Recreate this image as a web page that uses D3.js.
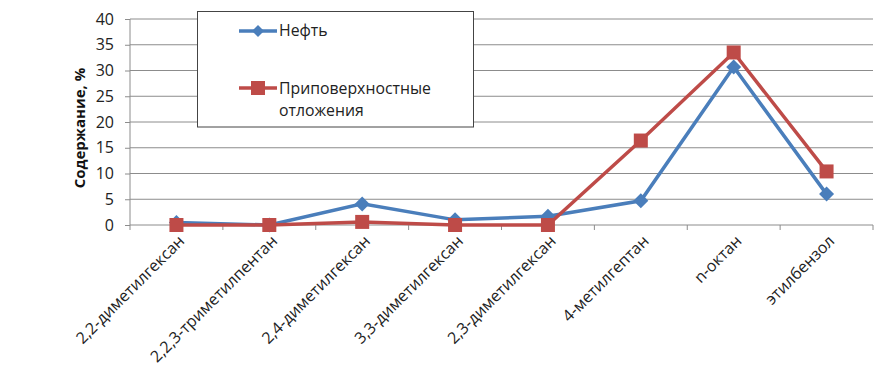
<!DOCTYPE html>
<html><head><meta charset="utf-8">
<script src="https://cdn.jsdelivr.net/npm/d3@7"></script>
<style>body{margin:0;background:#fff;}svg{display:block;font-family:"Open Sans",sans-serif;}</style>
</head><body><svg id="c" width="886" height="368"></svg>
<script>
const categories = ["2,2-диметилгексан","2,2,3-триметилпентан","2,4-диметилгексан","3,3-диметилгексан","2,3-диметилгексан","4-метилгептан","n-октан","этилбензол"];
const oilValues = [0.5, 0, 4.1, 1.0, 1.7, 4.7, 30.7, 6.0];
const surfaceValues = [0, 0, 0.6, 0, 0, 16.4, 33.5, 10.4];
const seriesNames = ["Нефть", "Приповерхностные отложения"];
const yTicks = [0,5,10,15,20,25,30,35,40];
const yTitle = "Содержание, %";

const svg = d3.select("#c");
const L = 130, R = 873, T = 19, B = 225;
const x = d3.scaleBand().domain(categories).range([L, R]);
const y = d3.scaleLinear().domain([0, 40]).range([B, T]);

svg.append("g").selectAll("line").data(yTicks.filter(d=>d>0)).join("line")
  .attr("x1", L).attr("x2", R).attr("y1", d=>y(d)).attr("y2", d=>y(d))
  .attr("stroke", "#8c8c8c").attr("stroke-width", 1);

const ya = svg.append("g").attr("transform", `translate(${L},0)`)
  .call(d3.axisLeft(y).tickValues(yTicks).tickSize(5).tickPadding(11));
ya.select(".domain").attr("stroke", "#8c8c8c").attr("d", `M0,${B}V${T}`);
ya.selectAll(".tick line").attr("stroke", "#8c8c8c");
ya.selectAll("text").attr("font-size", 16).attr("fill", "#222").attr("font-family", "Open Sans");

const xa = svg.append("g").attr("transform", `translate(0,${B})`);
xa.append("line").attr("x1", L).attr("x2", R).attr("stroke", "#8c8c8c");
const bounds = categories.map(c => x(c)).concat([R]);
xa.selectAll("line.t").data(bounds).join("line").attr("class","t")
  .attr("x1", d=>d).attr("x2", d=>d).attr("y1", 0).attr("y2", 5).attr("stroke", "#8c8c8c");
xa.selectAll("text").data(categories).join("text")
  .attr("transform", d => `translate(${x(d)+x.bandwidth()/2+9},${17}) rotate(-45)`)
  .attr("text-anchor", "end").attr("font-size", 16).attr("fill", "#222").text(d=>d);

svg.append("text").attr("transform", `translate(85,${(T+B)/2+6}) rotate(-90)`)
  .attr("text-anchor", "middle").attr("font-size", 15).attr("font-weight", "bold").attr("fill", "#111").text(yTitle);

const cx = d => x(d) + x.bandwidth()/2;
const line = d3.line().x(d=>cx(d[0])).y(d=>y(d[1]));
const blue = "#4a7ebb", red = "#be4b48";
const diamond = s => `M0,${-s}L${s},0L0,${s}L${-s},0Z`;

const oilData = categories.map((c,i)=>[c, oilValues[i]]);
const surfData = categories.map((c,i)=>[c, surfaceValues[i]]);

svg.append("path").datum(oilData).attr("d", line).attr("fill","none").attr("stroke", blue).attr("stroke-width", 3.5);
svg.append("g").selectAll("path").data(oilData).join("path")
  .attr("transform", d=>`translate(${cx(d[0])},${y(d[1])})`)
  .attr("d", diamond(7.5)).attr("fill", blue);

svg.append("path").datum(surfData).attr("d", line).attr("fill","none").attr("stroke", red).attr("stroke-width", 3.5);
svg.append("g").selectAll("rect").data(surfData).join("rect")
  .attr("x", d=>cx(d[0])-7).attr("y", d=>y(d[1])-7).attr("width", 14).attr("height", 14).attr("fill", red);

const lg = svg.append("g");
lg.append("rect").attr("x", 197.5).attr("y", 11.5).attr("width", 276).attr("height", 115.5)
  .attr("fill", "#fff").attr("stroke", "#444").attr("stroke-width", 1);
lg.append("line").attr("x1", 239).attr("x2", 277).attr("y1", 31).attr("y2", 31).attr("stroke", blue).attr("stroke-width", 3.5);
lg.append("path").attr("transform", "translate(258,31)").attr("d", diamond(6)).attr("fill", blue);
lg.append("text").attr("x", 279).attr("y", 36).attr("font-size", 15.8).attr("fill", "#222").text(seriesNames[0]);
lg.append("line").attr("x1", 239).attr("x2", 277).attr("y1", 88).attr("y2", 88).attr("stroke", red).attr("stroke-width", 3.5);
lg.append("rect").attr("x", 251).attr("y", 81).attr("width", 14).attr("height", 14).attr("fill", red);
const words = seriesNames[1].split(" ");
lg.append("text").attr("x", 279).attr("y", 94).attr("font-size", 15.8).attr("fill", "#222").text(words[0]);
lg.append("text").attr("x", 279).attr("y", 116).attr("font-size", 15.8).attr("fill", "#222").text(words[1]);
</script></body></html>
